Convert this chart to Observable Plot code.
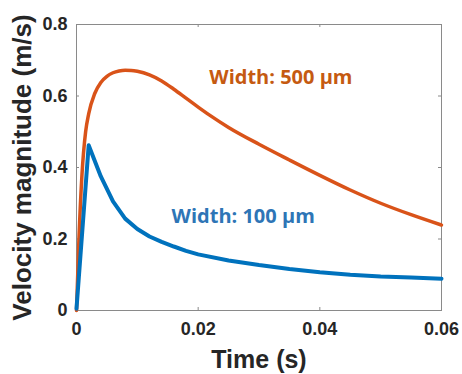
<!DOCTYPE html>
<html><head><meta charset="utf-8">
<script src="https://cdn.jsdelivr.net/npm/d3@7"></script>
<script src="https://cdn.jsdelivr.net/npm/@observablehq/plot@0.6"></script>
<style>body{margin:0;background:#fff}</style>
</head><body><div id="chart"></div>
<script>
// Width 500 µm series
const t500 = [0, 0.0004, 0.0009, 0.0015, 0.002, 0.003, 0.004, 0.005, 0.006, 0.007, 0.008, 0.009, 0.01, 0.012, 0.014, 0.016, 0.018, 0.02, 0.022, 0.025, 0.03, 0.035, 0.04, 0.045, 0.05, 0.055, 0.06];
const v500 = [0, 0.2, 0.38, 0.5, 0.55, 0.607, 0.638, 0.655, 0.665, 0.67, 0.672, 0.6715, 0.669, 0.659, 0.642, 0.619, 0.594, 0.569, 0.545, 0.512, 0.465, 0.421, 0.378, 0.337, 0.300, 0.268, 0.239];
// Width 100 µm series
const t100 = [0, 0.002, 0.004, 0.006, 0.008, 0.01, 0.012, 0.014, 0.016, 0.018, 0.02, 0.025, 0.03, 0.035, 0.04, 0.045, 0.05, 0.055, 0.06];
const v100 = [0.005, 0.462, 0.375, 0.305, 0.257, 0.228, 0.207, 0.192, 0.179, 0.167, 0.157, 0.14, 0.127, 0.116, 0.107, 0.1, 0.095, 0.092, 0.089];

const xTicks = [0, 0.02, 0.04, 0.06];
const xTickLabels = ["0", "0.02", "0.04", "0.06"];
const yTicks = [0, 0.2, 0.4, 0.6, 0.8];
const yTickLabels = ["0", "0.2", "0.4", "0.6", "0.8"];
const xLabel = "Time (s)";
const yLabel = "Velocity magnitude (m/s)";
const label500 = {t: 0.0336, v: 0.652, text: "Width: 500 µm"};
const label100 = {t: 0.0274, v: 0.264, text: "Width: 100 µm"};

const data500 = t500.map((t, i) => ({t, v: v500[i]}));
const data100 = t100.map((t, i) => ({t, v: v100[i]}));

const gray = "#8a8a8a";
const chart = Plot.plot({
  width: 462, height: 374,
  marginLeft: 76, marginRight: 21, marginTop: 24, marginBottom: 64,
  x: {domain: [0, 0.06]},
  y: {domain: [0, 0.8]},
  style: {fontFamily: "'Liberation Sans', Arial, sans-serif", background: "#fff", color: "#262626"},
  marks: [
    Plot.frame({stroke: gray, strokeWidth: 1}),
    Plot.tickX(xTicks.slice(1, -1), {x: d => d, insetTop: 283, stroke: gray}),
    Plot.tickX(xTicks.slice(1, -1), {x: d => d, insetBottom: 283, stroke: gray}),
    Plot.tickY(yTicks.slice(1, -1), {y: d => d, insetRight: 362, stroke: gray}),
    Plot.tickY(yTicks.slice(1, -1), {y: d => d, insetLeft: 362, stroke: gray}),
    Plot.axisX({ticks: xTicks, tickFormat: d => xTickLabels[xTicks.indexOf(d)], tickSize: 0, tickPadding: 12, fontSize: 18, fontWeight: "bold", label: null}),
    Plot.axisY({ticks: yTicks, tickFormat: d => yTickLabels[yTicks.indexOf(d)], tickSize: 0, tickPadding: 9, fontSize: 18, fontWeight: "bold", label: null}),
    Plot.text([xLabel], {text: d => d, frameAnchor: "bottom", textAnchor: "middle", lineAnchor: "top", dy: 40, fontSize: 25, fontWeight: "bold"}),
    Plot.text([yLabel], {text: d => d, frameAnchor: "left", textAnchor: "middle", lineAnchor: "top", rotate: -90, dx: -64, fontSize: 26, fontWeight: "bold"}),
    Plot.line(data500, {x: "t", y: "v", stroke: "#D95319", strokeWidth: 3.5, curve: "monotone-x"}),
    Plot.line(data100, {x: "t", y: "v", stroke: "#0072BD", strokeWidth: 4, curve: "linear", strokeLinejoin: "round"}),
    Plot.text([label500], {x: "t", y: "v", text: "text", fill: "#C55A11", fontFamily: "'Open Sans'", fontWeight: "bold", fontSize: 20}),
    Plot.text([label100], {x: "t", y: "v", text: "text", fill: "#2E75B6", fontFamily: "'Open Sans'", fontWeight: "bold", fontSize: 20})
  ]
});
document.getElementById("chart").appendChild(chart);
</script>
</body></html>
